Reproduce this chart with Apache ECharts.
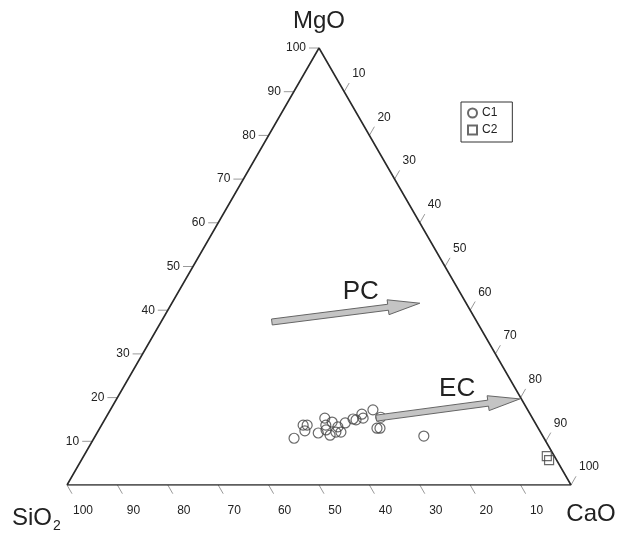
<!DOCTYPE html>
<html><head><meta charset="utf-8">
<script src="https://cdn.jsdelivr.net/npm/echarts@6/dist/echarts.min.js"></script>
<style>html,body{margin:0;padding:0;background:#fff}#c{width:617px;height:534px}</style>
</head><body><div id="c"></div>
<script>
// Ternary data: [SiO2, CaO, MgO]
const c1 = [
  [49.6,39.7,10.7],[46.3,40.0,13.7],[45.5,40.8,13.7],[46.6,41.0,12.4],[44.2,43.9,11.9],
  [41.2,43.5,15.3],[41.8,44.5,13.7],[42.3,45.1,12.6],[42.1,46.5,11.4],[40.2,45.4,14.4],
  [40.6,47.3,12.1],[39.6,47.1,13.3],[39.6,48.3,12.1],[37.7,48.1,14.2],[35.7,49.2,15.1],
  [35.2,49.9,14.9],[33.4,50.4,16.2],[33.6,51.1,15.3],[30.7,52.1,17.2],[32.0,55.0,13.0],
  [31.4,55.6,13.0],[30.0,54.5,15.5],[23.6,65.2,11.2]
];
const c2 = [[1.5,91.9,6.6],[1.5,92.8,5.7]];
// arrows: [start(SiO2,CaO,MgO), end(SiO2,CaO,MgO)]
const arrows = [
  [[40.7,22.0,37.3],[9.2,49.2,41.6]],
  [[31.0,53.7,15.3],[0.3,80.0,19.7]]
];
const arrowLabels = [
  {text:'PC', at:[19.6,36.2,44.2]},
  {text:'EC', at:[11.6,66.4,22.0]}
];
const tickValues = [10,20,30,40,50,60,70,80,90,100];

const SQ3 = Math.sqrt(3)/2;
function toXY(p){ const t=p[0]+p[1]+p[2]; const c=p[1]/t*100, m=p[2]/t*100; return [c+m/2, m*SQ3]; }

const ticks = [];
tickValues.forEach(v=>{
  ticks.push(toXY([100-v,0,v]).concat([0,v]));   // MgO on left edge
  ticks.push(toXY([v,100-v,0]).concat([1,v]));   // SiO2 on bottom edge
  ticks.push(toXY([0,v,100-v]).concat([2,v]));   // CaO on right edge
});
const triangle = [toXY([100,0,0]),toXY([0,100,0]),toXY([0,0,100]),toXY([100,0,0])];
const FONT = 'Liberation Sans, Arial, Helvetica, sans-serif';

const chart = echarts.init(document.getElementById('c'));
chart.setOption({
  animation:false,
  backgroundColor:'#fff',
  grid:{left:67,right:46,top:48,bottom:49},
  xAxis:{type:'value',min:0,max:100,show:false},
  yAxis:{type:'value',min:0,max:100*SQ3,show:false},
  legend:{
    orient:'vertical', left:461, top:102,
    data:[{name:'C1',icon:'circle'},{name:'C2',icon:'rect'}],
    borderColor:'#333', borderWidth:1, padding:[5,15,6,6],
    itemWidth:9, itemHeight:9, itemGap:5,
    textStyle:{fontFamily:FONT,fontSize:12,color:'#222'}
  },
  series:[
    {type:'line', data:triangle, symbol:'none', silent:true,
     lineStyle:{color:'#2a2a2a',width:1.6}, z:2},
    {type:'custom', silent:true, data:ticks, z:1,
     renderItem:function(params,api){
       const p = api.coord([api.value(0),api.value(1)]);
       const side = api.value(2), v = String(api.value(3));
       let d, tx, ty, align;
       if(side===0){ d=[-10,0]; tx=p[0]-13; ty=p[1]; align='right'; }
       else if(side===1){ d=[5,8.7]; tx=p[0]+16; ty=p[1]+26; align='center'; }
       else { d=[5,-8.7]; tx=p[0]+8; ty=p[1]-18; align='left'; }
       return {type:'group',children:[
         {type:'line',shape:{x1:p[0],y1:p[1],x2:p[0]+d[0],y2:p[1]+d[1]},style:{stroke:'#999',lineWidth:1}},
         {type:'text',x:tx,y:ty,style:{text:v,textAlign:align,textVerticalAlign:'middle',fill:'#222',font:'12px '+FONT}}
       ]};
     }},
    {type:'custom', silent:true, z:4,
     data:arrows.map(a=>toXY(a[0]).concat(toXY(a[1]))),
     renderItem:function(params,api){
       const a = api.coord([api.value(0),api.value(1)]);
       const b = api.coord([api.value(2),api.value(3)]);
       const dx=b[0]-a[0], dy=b[1]-a[1], L=Math.hypot(dx,dy);
       const ux=dx/L, uy=dy/L, nx=-uy, ny=ux;
       const hl=32, hw=7.5, sw=3;
       const bx=b[0]-ux*hl, by=b[1]-uy*hl;
       const pts=[
         [a[0]+nx*sw,a[1]+ny*sw],[bx+nx*sw,by+ny*sw],[bx+nx*hw,by+ny*hw],
         [b[0],b[1]],[bx-nx*hw,by-ny*hw],[bx-nx*sw,by-ny*sw],[a[0]-nx*sw,a[1]-ny*sw]
       ];
       return {type:'polygon',shape:{points:pts},style:{fill:'#c4c4c4',stroke:'#666',lineWidth:1}};
     }},
    {type:'custom', silent:true, z:5,
     data:arrowLabels.map(l=>toXY(l.at)),
     renderItem:function(params,api){
       const p = api.coord([api.value(0),api.value(1)]);
       return {type:'text',x:p[0],y:p[1],style:{text:arrowLabels[params.dataIndex].text,textAlign:'center',textVerticalAlign:'middle',fill:'#222',font:'26px '+FONT}};
     }},
    {type:'custom', silent:true, z:5,
     data:[toXY([100,0,0]),toXY([0,100,0]),toXY([0,0,100])],
     renderItem:function(params,api){
       const p = api.coord([api.value(0),api.value(1)]);
       const i = params.dataIndex;
       const f = '24px '+FONT;
       if(i===0){
         return {type:'group',children:[
           {type:'text',x:p[0]-55,y:p[1]+33,style:{text:'SiO',textAlign:'left',textVerticalAlign:'middle',fill:'#222',font:f}},
           {type:'text',x:p[0]-14,y:p[1]+41,style:{text:'2',textAlign:'left',textVerticalAlign:'middle',fill:'#222',font:'14px '+FONT}}
         ]};
       } else if(i===1){
         return {type:'text',x:p[0]+20,y:p[1]+29,style:{text:'CaO',textAlign:'center',textVerticalAlign:'middle',fill:'#222',font:f}};
       }
       return {type:'text',x:p[0],y:p[1]-27,style:{text:'MgO',textAlign:'center',textVerticalAlign:'middle',fill:'#222',font:f}};
     }},
    {type:'scatter', name:'C1', data:c1.map(toXY), symbol:'circle', symbolSize:10, z:3,
     itemStyle:{color:'rgba(255,255,255,0)',borderColor:'#444',borderWidth:1.2}},
    {type:'scatter', name:'C2', data:c2.map(toXY), symbol:'rect', symbolSize:9, z:3,
     itemStyle:{color:'rgba(255,255,255,0)',borderColor:'#444',borderWidth:1.2}}
  ]
});
</script></body></html>
